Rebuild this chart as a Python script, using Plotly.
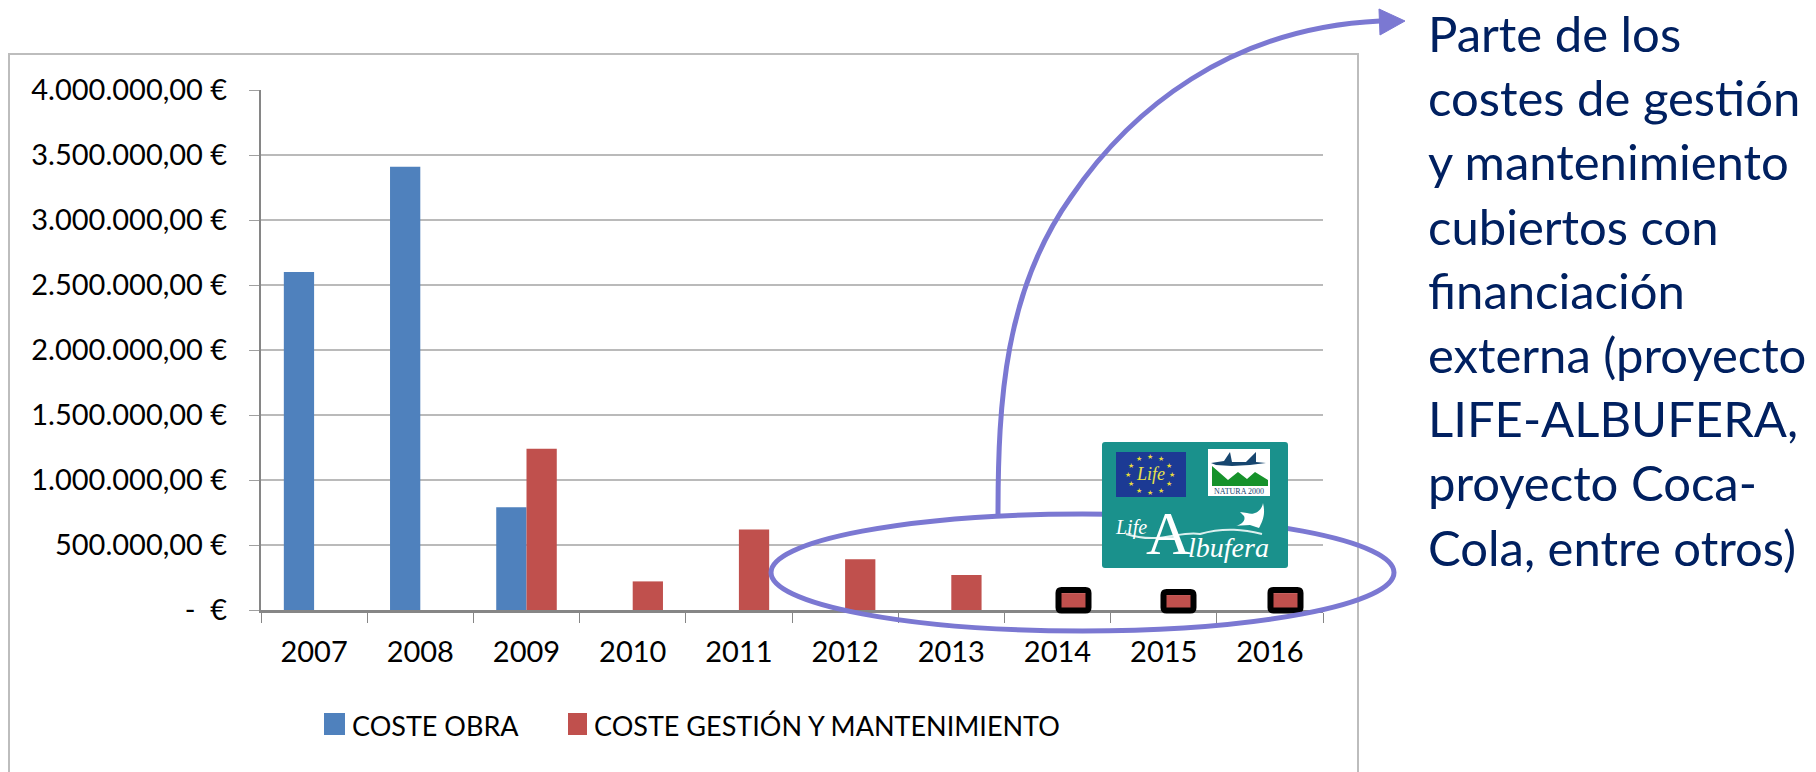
import math
import plotly.graph_objects as go

years = ["2007", "2008", "2009", "2010", "2011", "2012", "2013", "2014", "2015", "2016"]
coste_obra = [2600000, 3410000, 790000, None, None, None, None, None, None, None]
coste_gestion = [None, None, 1240000, 220000, 620000, 390000, 270000, 130000, 115000, 130000]
y_ticks = [0, 500000, 1000000, 1500000, 2000000, 2500000, 3000000, 3500000, 4000000]
y_labels = ["-  €", "500.000,00 €", "1.000.000,00 €", "1.500.000,00 €", "2.000.000,00 €",
            "2.500.000,00 €", "3.000.000,00 €", "3.500.000,00 €", "4.000.000,00 €"]
note_lines = ["Parte de los", "costes de gestión", "y mantenimiento", "cubiertos con", "financiación",
              "externa (proyecto", "LIFE-ALBUFERA,", "proyecto Coca-", "Cola, entre otros)"]

W, H = 1816, 772
L, R, T, B = 261, 1323, 90, 610
FONT = "Lato"
VIOLET = "#7B78D2"
TEAL = "#1A918C"
BLUE = "#4F81BD"
RED = "#C0504D"


def px(x):
    return (x - L) / (R - L)


def py(y):
    return (B - y) / (B - T)


def path(cmds):
    out = []
    for c in cmds:
        if isinstance(c, str):
            out.append(c)
        else:
            out.append(f"{px(c[0]):.5f},{py(c[1]):.5f}")
    return " ".join(out)


def pshape(cmds, **kw):
    return dict(type="path", xref="paper", yref="paper", path=path(cmds), **kw)


def rect(x0, y0, x1, y1, **kw):
    return dict(type="rect", xref="paper", yref="paper", x0=px(x0), x1=px(x1), y0=py(y0), y1=py(y1), **kw)


def rounded(x0, y0, x1, y1, r):
    return ["M", (x0 + r, y0), "L", (x1 - r, y0), "Q", (x1, y0), (x1, y0 + r), "L", (x1, y1 - r),
            "Q", (x1, y1), (x1 - r, y1), "L", (x0 + r, y1), "Q", (x0, y1), (x0, y1 - r),
            "L", (x0, y0 + r), "Q", (x0, y0), (x0 + r, y0), "Z"]


def label(x, y, text, size, color="white", family=FONT, xanchor="center", **kw):
    return dict(xref="paper", yref="paper", x=px(x), y=py(y), text=text, showarrow=False,
                font=dict(size=size, color=color, family=family), xanchor=xanchor, yanchor="middle", **kw)


fig = go.Figure()
fig.add_bar(name="COSTE OBRA", x=years, y=coste_obra, marker=dict(color=BLUE, line=dict(width=0)),
            legend="legend", showlegend=True)
fig.add_bar(name="COSTE GESTIÓN Y MANTENIMIENTO", x=years, y=coste_gestion,
            marker=dict(color=RED, line=dict(width=0)), legend="legend2", showlegend=True)

shapes = []
annotations = []

# chart frame
shapes.append(rect(9, 54, 1358, 790, line=dict(color="#BDBDBD", width=2), layer="below"))

# legend swatches at the reference's size
shapes.append(rect(324, 713, 345, 735, fillcolor=BLUE, line=dict(width=0)))
shapes.append(rect(568, 713, 587, 735, fillcolor=RED, line=dict(width=0)))

# black highlight boxes
for x0, y0 in [(1058.5, 590), (1163.5, 592), (1270.5, 590)]:
    shapes.append(pshape(rounded(x0, y0, x0 + 30, 610.5, 3), line=dict(color="black", width=6)))

# ellipse + curved arrow
shapes.append(dict(type="circle", xref="paper", yref="paper", x0=px(771), x1=px(1394), y0=py(514), y1=py(631),
                   line=dict(color=VIOLET, width=5)))
shapes.append(pshape(["M", (998, 515), "C", (998, 400), (1005, 290), (1071, 197),
                      "C", (1130, 110), (1230, 28), (1380, 21)], line=dict(color=VIOLET, width=5)))
shapes.append(pshape(["M", (1379, 9), "L", (1405, 21), "L", (1380, 35), "Z"],
                     fillcolor=VIOLET, line=dict(color=VIOLET, width=1)))

# LIFE Albufera logo
shapes.append(pshape(rounded(1102, 442, 1288, 568, 3), fillcolor=TEAL, line=dict(width=0)))
shapes.append(rect(1116, 452, 1186, 497, fillcolor="#1C3A94", line=dict(width=0)))
shapes.append(rect(1208, 449, 1270, 496, fillcolor="white", line=dict(width=0)))
shapes.append(pshape(["M", (1212, 466), "L", (1212, 486), "L", (1268, 486), "L", (1268, 480), "L", (1255, 472),
                      "L", (1247, 479), "L", (1238, 472), "L", (1228, 480), "Z"],
                     fillcolor="#16922B", line=dict(width=0)))
shapes.append(pshape(["M", (1211, 463), "L", (1224, 461), "L", (1230, 452), "L", (1232, 462), "L", (1246, 462),
                      "L", (1256, 452), "L", (1256, 462), "L", (1266, 463), "L", (1250, 465), "L", (1232, 466),
                      "L", (1216, 465), "Z"], fillcolor="#17466F", line=dict(width=0)))
# wave and bird
shapes.append(pshape(["M", (1126, 534), "C", (1160, 545), (1180, 530), (1200, 534),
                      "C", (1225, 527), (1245, 530), (1262, 534)], line=dict(color="#DDF0EF", width=2)))
shapes.append(pshape(["M", (1232, 526), "C", (1242, 526), (1246, 520), (1244, 516), "L", (1240, 512),
                      "L", (1247, 513), "C", (1255, 516), (1262, 510), (1263, 503),
                      "C", (1266, 515), (1262, 522), (1259, 528), "L", (1250, 525), "Z"],
                     fillcolor="white", line=dict(width=0)))

for i in range(12):
    a = math.radians(30 * i)
    annotations.append(label(1150 + 22 * math.sin(a), 474 - 18 * math.cos(a), "★", 7, color="#E8DC3C"))
annotations.append(label(1150, 474, "<i>Life</i>", 18, color="#E8E24A", family="Liberation Serif"))
annotations.append(label(1239, 491, "NATURA 2000", 8, color="#17466F", family="Liberation Serif"))
annotations.append(label(1131, 527, "<i>Life</i>", 20, family="Liberation Serif"))
annotations.append(label(1168, 533, "A", 62, family="Liberation Serif"))
annotations.append(label(1228, 547, "<i>lbufera</i>", 28, family="Liberation Serif"))

# note text
for i, line in enumerate(note_lines):
    annotations.append(label(1426, 33 + 64.2 * i, line, 49, color="#002060", xanchor="left"))

fig.update_layout(
    width=W, height=H, autosize=False, showlegend=True,
    margin=dict(l=L, r=W - R, t=T, b=H - B),
    paper_bgcolor="white", plot_bgcolor="white",
    barmode="group", bargap=0.43, bargroupgap=0,
    font=dict(family=FONT, size=29, color="black"),
    shapes=shapes, annotations=annotations,
    legend=dict(x=px(312), y=py(701), xanchor="left", yanchor="top",
                font=dict(size=27, family=FONT), bgcolor="rgba(0,0,0,0)"),
    legend2=dict(x=px(554), y=py(701), xanchor="left", yanchor="top",
                 font=dict(size=27, family=FONT), bgcolor="rgba(0,0,0,0)"),
    xaxis=dict(type="category", tickson="boundaries", ticks="outside", ticklen=10, tickcolor="#868686",
               showline=True, linecolor="#868686", linewidth=3, showgrid=False,
               ticklabelstandoff=14, tickfont=dict(size=29)),
    yaxis=dict(range=[0, 4000000], tickvals=y_ticks, ticktext=y_labels, ticks="outside", ticklen=10,
               tickcolor="#A0A0A0", showline=True, linecolor="#868686", linewidth=2,
               gridcolor="#BABABA", gridwidth=1.5, zeroline=False, ticklabelstandoff=16, tickfont=dict(size=29)),
)
fig.write_html("out.html", config=dict(displayModeBar=False),
               post_script="document.body.style.margin='0';document.body.style.overflow='hidden';")
